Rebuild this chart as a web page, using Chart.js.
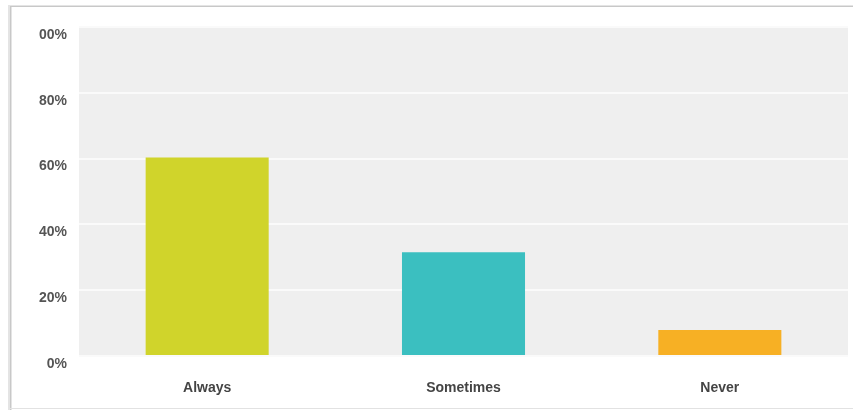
<!DOCTYPE html>
<html>
<head>
<meta charset="utf-8">
<script src="https://cdn.jsdelivr.net/npm/chart.js@4"></script>
<style>
  html, body { margin: 0; padding: 0; background: #fff; }
  #wrap { width: 853px; height: 410px; position: relative; }
</style>
</head>
<body>
<div id="wrap"><canvas id="chart"></canvas></div>
<script>
const categories = ["Always", "Sometimes", "Never"];
const values = [60.3, 31.5, 7.9];
const barColors = ["#d0d42b", "#3bbfc0", "#f7b024"];
const yTickLabels = ["0%", "20%", "40%", "60%", "80%", "00%"];

// white card with grey edge and light plot background
const framePlugin = {
  id: "frame",
  beforeDraw(chart) {
    const { ctx, chartArea: a, width, height } = chart;
    ctx.save();
    ctx.fillStyle = "#fff";
    ctx.fillRect(0, 0, width, height);
    ctx.fillStyle = "#e4e4e4";
    ctx.fillRect(8, 5, width - 8, 2);
    ctx.fillRect(8, 5, 4, height - 5);
    ctx.fillStyle = "#c8c8c8";
    ctx.fillRect(10, 6, 1, height - 6);
    ctx.fillRect(10, 6, width - 10, 1);
    ctx.fillStyle = "#e2e2e2";
    ctx.fillRect(10, height - 2, width - 10, 1);
    ctx.fillStyle = "#efefef";
    ctx.fillRect(a.left, a.top, a.right - a.left, a.bottom - a.top);
    ctx.fillStyle = "#dcdcdc";
    ctx.fillRect(a.left, a.bottom, a.right - a.left, 1);
    ctx.restore();
  }
};

new Chart(document.getElementById("chart"), {
  type: "bar",
  data: {
    labels: categories,
    datasets: [{
      data: values,
      backgroundColor: barColors,
      borderWidth: 0,
      barPercentage: 0.48,
      categoryPercentage: 1
    }]
  },
  options: {
    responsive: true,
    maintainAspectRatio: false,
    animation: false,
    layout: { padding: { left: 0, top: 27, right: 5, bottom: 0 } },
    plugins: { legend: { display: false }, tooltip: { enabled: false } },
    scales: {
      x: {
        grid: { display: false },
        border: { display: false },
        ticks: {
          color: "#444",
          padding: 16,
          font: { family: "Liberation Sans, Arial, sans-serif", size: 14, weight: "bold" }
        },
        afterFit(scale) { scale.height = 54; }
      },
      y: {
        min: 0,
        max: 100,
        grid: { color: "#fafafa", lineWidth: 2, drawTicks: false },
        border: { display: false },
        ticks: {
          stepSize: 20,
          padding: 12,
          labelOffset: 8,
          color: "#555",
          font: { family: "Liberation Sans, Arial, sans-serif", size: 14, weight: "bold" },
          callback: (v, i) => yTickLabels[i]
        },
        afterFit(scale) { scale.width = 79; }
      }
    }
  },
  plugins: [framePlugin]
});
</script>
</body>
</html>
